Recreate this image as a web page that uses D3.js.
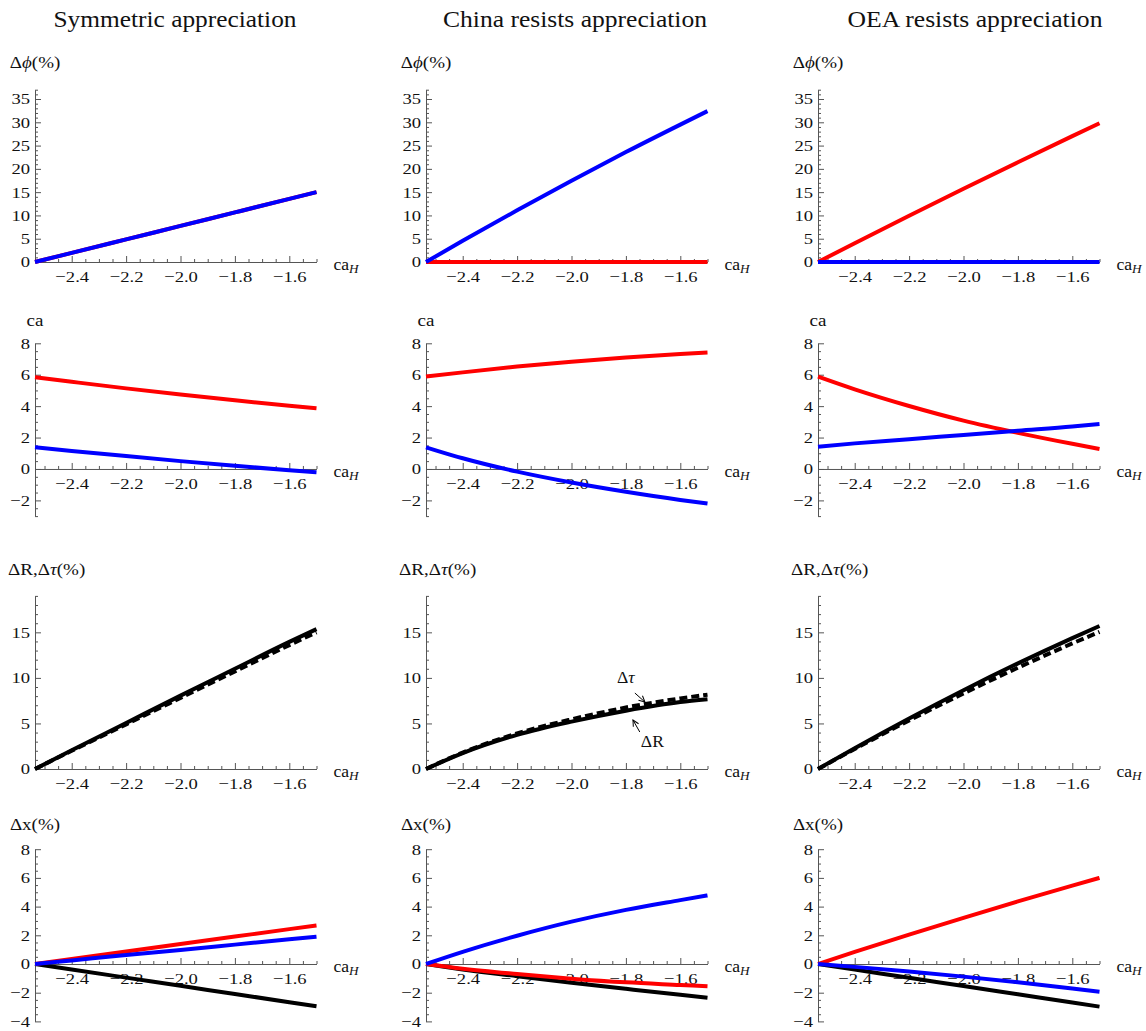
<!DOCTYPE html>
<html>
<head>
<meta charset="utf-8">
<script src="https://cdn.jsdelivr.net/npm/d3@7"></script>
<style>
body { margin: 0; background: #fff; }
svg { font-family: "Liberation Serif", "Times New Roman", serif; }
.axis text { font-size: 15.5px; fill: #111; }
</style>
</head>
<body>
<svg id="chart" width="1146" height="1031"></svg>
<script>
var caH = [-2.535, -2.4, -2.2, -2.0, -1.8, -1.6, -1.5];
var xTickValues = [-2.4, -2.2, -2.0, -1.8, -1.6];
var columnTitles = ["Symmetric appreciation", "China resists appreciation", "OEA resists appreciation"];

// tick labels for each row
var phiTicks = [0, 5, 10, 15, 20, 25, 30, 35];
var caTicks = [-2, 0, 2, 4, 6, 8];
var dRTicks = [0, 5, 10, 15];
var dxTicks = [-4, -2, 0, 2, 4, 6, 8];

// row 1 : Δϕ(%)
var phiSymRed    = [0, 1.95, 4.85, 7.75, 10.65, 13.55, 15.0];
var phiSymBlue   = [0, 1.95, 4.85, 7.75, 10.65, 13.55, 15.0];
var phiChinaRed  = [0, 0, 0, 0, 0, 0, 0];
var phiChinaBlue = [0, 4.54, 11.1, 17.45, 23.6, 29.5, 32.4];
var phiOeaRed    = [0, 4.03, 9.92, 15.72, 21.42, 27.03, 29.8];
var phiOeaBlue   = [0, 0, 0, 0, 0, 0, 0];

// row 2 : ca
var caSymRed    = [5.84, 5.55, 5.13, 4.74, 4.37, 4.02, 3.86];
var caSymBlue   = [1.38, 1.15, 0.82, 0.5, 0.2, -0.08, -0.21];
var caChinaRed  = [5.88, 6.15, 6.52, 6.83, 7.1, 7.32, 7.41];
var caChinaBlue = [1.38, 0.68, -0.17, -0.86, -1.45, -1.97, -2.2];
var caOeaRed    = [5.88, 5.07, 4.01, 3.08, 2.3, 1.6, 1.27];
var caOeaBlue   = [1.42, 1.63, 1.89, 2.17, 2.44, 2.7, 2.87];

// row 3 : ΔR (solid), Δτ (dashed)
var dRSym     = [0, 2.05, 5.05, 8.05, 11.0, 13.95, 15.35];
var dTauSym   = [0, 2.0, 4.9, 7.8, 10.7, 13.6, 15.0];
var dRChina   = [0, 1.75, 3.75, 5.2, 6.4, 7.35, 7.65];
var dTauChina = [0, 1.8, 3.9, 5.45, 6.75, 7.75, 8.15];
var dROea     = [0, 2.29, 5.55, 8.65, 11.59, 14.37, 15.7];
var dTauOea   = [0, 2.2, 5.33, 8.3, 11.12, 13.78, 15.05];

// row 4 : Δx(%)
var dxSymRed     = [0, 0.35, 0.87, 1.39, 1.91, 2.43, 2.68];
var dxSymBlue    = [0, 0.25, 0.62, 0.98, 1.35, 1.72, 1.9];
var dxSymBlack   = [0, -0.38, -0.95, -1.52, -2.09, -2.66, -2.95];
var dxChinaRed   = [0, -0.33, -0.7, -1.02, -1.28, -1.46, -1.55];
var dxChinaBlue  = [0, 0.85, 1.97, 2.95, 3.77, 4.45, 4.78];
var dxChinaBlack = [0, -0.38, -0.85, -1.3, -1.73, -2.15, -2.35];
var dxOeaRed     = [0, 0.84, 2.05, 3.22, 4.36, 5.46, 6.0];
var dxOeaBlue    = [0, -0.2, -0.52, -0.88, -1.27, -1.7, -1.93];
var dxOeaBlack   = [0, -0.39, -0.96, -1.54, -2.11, -2.68, -2.97];

var svg = d3.select("#chart");
svg.append("rect").attr("width", 1146).attr("height", 1031).attr("fill", "#fff");

svg.append("defs").append("marker")
    .attr("id", "arr").attr("viewBox", "0 0 8 8")
    .attr("refX", 7).attr("refY", 4)
    .attr("markerWidth", 8).attr("markerHeight", 8)
    .attr("markerUnits", "userSpaceOnUse")
    .attr("orient", "auto")
  .append("path").attr("d", "M1,1 L7,4 L1,7")
    .attr("fill", "none").attr("stroke", "#000").attr("stroke-width", 1);

var colX = [35, 426, 818];
var plotW = 281.5;
var titleX = [175, 575, 975];
var titleW = [243, 264, 255];

var rows = [
  {domain: [0, 37], range: [262, 89.7], ticks: phiTicks, minor: 1, label: "phi"},
  {domain: [-3, 8], range: [516.1, 343.3], ticks: caTicks, minor: 0.5, label: "ca"},
  {domain: [0, 19], range: [769, 595.9], ticks: dRTicks, minor: 1, label: "dR"},
  {domain: [-4, 8], range: [1021.4, 849.2], ticks: dxTicks, minor: 0.5, label: "dx"}
];

var series = [
  [ [{v: phiSymRed, c: "#f00"}, {v: phiSymBlue, c: "#00f"}],
    [{v: phiChinaRed, c: "#f00"}, {v: phiChinaBlue, c: "#00f"}],
    [{v: phiOeaRed, c: "#f00"}, {v: phiOeaBlue, c: "#00f"}] ],
  [ [{v: caSymRed, c: "#f00"}, {v: caSymBlue, c: "#00f"}],
    [{v: caChinaRed, c: "#f00"}, {v: caChinaBlue, c: "#00f"}],
    [{v: caOeaRed, c: "#f00"}, {v: caOeaBlue, c: "#00f"}] ],
  [ [{v: dRSym, c: "#000"}, {v: dTauSym, c: "#000", dash: "8,4"}],
    [{v: dRChina, c: "#000"}, {v: dTauChina, c: "#000", dash: "8,4"}],
    [{v: dROea, c: "#000"}, {v: dTauOea, c: "#000", dash: "8,4"}] ],
  [ [{v: dxSymBlack, c: "#000"}, {v: dxSymRed, c: "#f00"}, {v: dxSymBlue, c: "#00f"}],
    [{v: dxChinaBlack, c: "#000"}, {v: dxChinaRed, c: "#f00"}, {v: dxChinaBlue, c: "#00f"}],
    [{v: dxOeaBlack, c: "#000"}, {v: dxOeaRed, c: "#f00"}, {v: dxOeaBlue, c: "#00f"}] ]
];

// text stretched a little horizontally, like the reference rendering
function stretched(x, y, anchor, size, sx) {
  return svg.append("g").attr("transform", "translate(" + x + "," + y + ")")
    .append("text").attr("text-anchor", anchor).attr("font-size", size)
    .attr("fill", "#111").attr("transform", "scale(" + sx + ",1)");
}

function yLabel(kind, ax, top) {
  var t;
  if (kind === "phi") {
    t = stretched(ax, top - 22, "middle", 17, 1.12);
    t.append("tspan").text("Δ");
    t.append("tspan").attr("font-style", "italic").text("ϕ");
    t.append("tspan").text("(%)");
  } else if (kind === "ca") {
    t = stretched(ax, top - 17, "middle", 17, 1.12);
    t.text("ca");
  } else if (kind === "dR") {
    t = stretched(ax - 27, top - 21, "start", 17, 1.12);
    t.append("tspan").text("ΔR,Δ");
    t.append("tspan").attr("font-style", "italic").text("τ");
    t.append("tspan").text("(%)");
  } else {
    t = stretched(ax, top - 19, "middle", 17, 1.12);
    t.text("Δx(%)");
  }
}

columnTitles.forEach(function(title, c) {
  svg.append("text")
    .attr("x", titleX[c]).attr("y", 27)
    .attr("text-anchor", "middle")
    .attr("font-size", 23).attr("fill", "#111")
    .attr("textLength", titleW[c]).attr("lengthAdjust", "spacingAndGlyphs")
    .text(title);
});

var xMinor = d3.range(-2.5, -1.49, 0.05).filter(function(v) {
  return xTickValues.every(function(t) { return Math.abs(t - v) > 1e-6; });
});

rows.forEach(function(row, r) {
  colX.forEach(function(cx, c) {
    var x = d3.scaleLinear().domain([-2.535, -1.5]).range([cx, cx + plotW]);
    var y = d3.scaleLinear().domain(row.domain).range(row.range);
    var y0 = y(0);

    var yMinor = d3.range(row.domain[0], row.domain[1] + 1e-6, row.minor).filter(function(v) {
      return row.ticks.indexOf(v) === -1;
    });

    // y axis
    var gy = svg.append("g").attr("class", "axis").attr("color", "#555")
      .attr("transform", "translate(" + cx + ",0)")
      .call(d3.axisLeft(y).tickValues(row.ticks).tickSize(-6).tickSizeOuter(0)
        .tickPadding(4.2).tickFormat(d3.format("d")));
    gy.attr("font-size", null).attr("font-family", null);
    gy.selectAll("text").attr("transform", "scale(1.2,1)");
    svg.append("g").attr("color", "#555")
      .attr("transform", "translate(" + cx + ",0)")
      .call(d3.axisLeft(y).tickValues(yMinor).tickSize(-3).tickFormat(""))
      .select(".domain").remove();

    // x axis at zero
    var gx = svg.append("g").attr("class", "axis").attr("color", "#555")
      .attr("transform", "translate(0," + y0 + ")")
      .call(d3.axisBottom(x).tickValues(xTickValues).tickSize(-6).tickSizeOuter(0)
        .tickPadding(9.5).tickFormat(d3.format(".1f")));
    gx.attr("font-size", null).attr("font-family", null);
    gx.selectAll("text").attr("transform", "scale(1.2,1)");
    svg.append("g").attr("color", "#555")
      .attr("transform", "translate(0," + y0 + ")")
      .call(d3.axisBottom(x).tickValues(xMinor).tickSize(-3).tickFormat(""))
      .select(".domain").remove();

    // axis labels
    yLabel(row.label, cx, row.range[1]);
    var xl = stretched(cx + plotW + 17, y0 + 8, "start", 16, 1.1);
    xl.append("tspan").text("ca");
    xl.append("tspan").attr("font-style", "italic").attr("font-size", 12)
      .attr("dy", 3).text("H");

    // curves
    var line = d3.line()
      .x(function(d, i) { return x(caH[i]); })
      .y(function(d) { return y(d); })
      .curve(d3.curveMonotoneX);
    series[r][c].forEach(function(s) {
      svg.append("path")
        .attr("d", line(s.v))
        .attr("fill", "none")
        .attr("stroke", s.c)
        .attr("stroke-width", 4)
        .attr("stroke-dasharray", s.dash || null);
    });

    // labels on the China ΔR/Δτ panel
    if (r === 2 && c === 1) {
      var tl = stretched(x(-1.833), y(9.44), "start", 16, 1.1);
      tl.append("tspan").text("Δ");
      tl.append("tspan").attr("font-style", "italic").text("τ");
      svg.append("line")
        .attr("x1", x(-1.767)).attr("y1", y(8.34))
        .attr("x2", x(-1.73)).attr("y2", y(7.35))
        .attr("stroke", "#000").attr("stroke-width", 1)
        .attr("marker-end", "url(#arr)");
      stretched(x(-1.745), y(2.41), "start", 16, 1.1).text("ΔR");
      svg.append("line")
        .attr("x1", x(-1.749)).attr("y1", y(4.06))
        .attr("x2", x(-1.774)).attr("y2", y(5.38))
        .attr("stroke", "#000").attr("stroke-width", 1)
        .attr("marker-end", "url(#arr)");
    }
  });
});
</script>
</body>
</html>
